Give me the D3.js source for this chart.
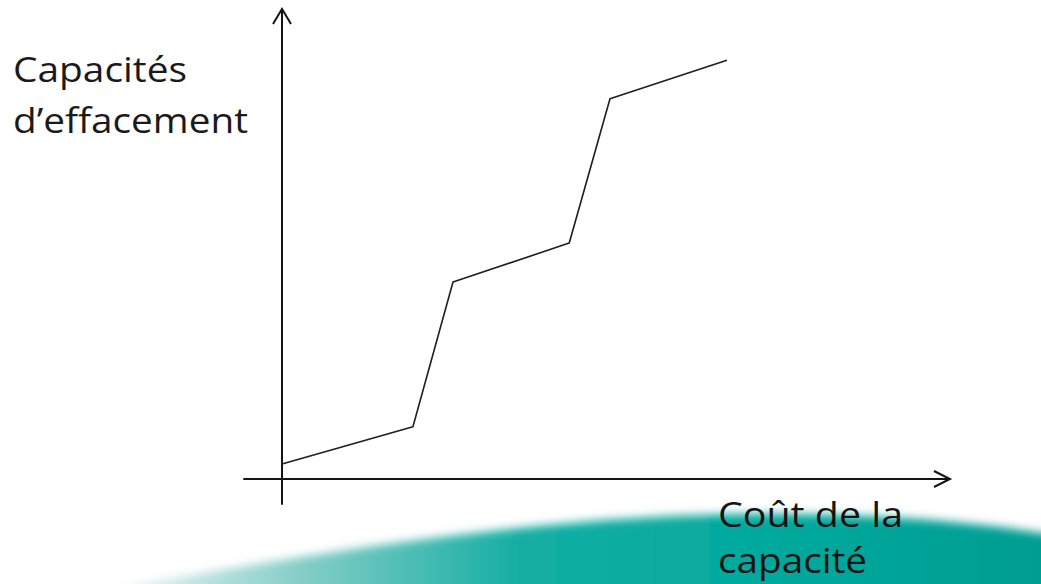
<!DOCTYPE html>
<html>
<head>
<meta charset="utf-8">
<script src="https://cdn.jsdelivr.net/npm/d3@7"></script>
<style>
html,body{margin:0;padding:0;background:#fff;}
svg{display:block;}
</style>
</head>
<body>
<svg id="chart" width="1041" height="584"></svg>
<script>
// Data (abstract units)
const costValues = [0, 19.6, 25.6, 43.0, 49.1, 66.6];
const capacityValues = [3.2, 11.1, 41.9, 50.2, 80.9, 89.1];
const yAxisLabel = ["Capacités", "d’effacement"];
const xAxisLabel = ["Coût de la", "capacité"];

const svg = d3.select("#chart");
const W = 1041, H = 584;

const x = d3.scaleLinear().domain([0, 100]).range([282, 950]);
const y = d3.scaleLinear().domain([0, 100]).range([479, 9]);

// Decorative teal swoosh at the bottom
const defs = svg.append("defs");
const grad = defs.append("linearGradient").attr("id", "teal").attr("x1", 0).attr("x2", W).attr("y1", 0).attr("y2", 0).attr("gradientUnits", "userSpaceOnUse");
[[0, "#ffffff", 0], [110, "#eef8f7", 1], [300, "#86cdc7", 1], [520, "#14aea3", 1], [800, "#00a89c", 1], [1041, "#009d92", 1]]
  .forEach(([o, c, op]) => grad.append("stop").attr("offset", o / W).attr("stop-color", c).attr("stop-opacity", op));
const blur = defs.append("filter").attr("id", "soft").attr("x", "-10%").attr("y", "-50%").attr("width", "120%").attr("height", "200%");
blur.append("feGaussianBlur").attr("stdDeviation", 5);
svg.append("path")
  .attr("d", "M 60,600 C 300,552 560,514 760,514 C 900,514 990,524 1060,536 L 1060,600 Z")
  .attr("fill", "url(#teal)")
  .attr("filter", "url(#soft)");

// Axes
const axisColor = "#141414";
const g = svg.append("g");
// y axis
g.append("line").attr("x1", x(0)).attr("x2", x(0)).attr("y1", y(-5.5)).attr("y2", y(100))
  .attr("stroke", axisColor).attr("stroke-width", 2);
g.append("path")
  .attr("d", `M ${x(0) - 9},${y(100) + 15} L ${x(0)},${y(100)} L ${x(0) + 9},${y(100) + 15}`)
  .attr("fill", "none").attr("stroke", axisColor).attr("stroke-width", 2);
// x axis
g.append("line").attr("x1", x(-5.8)).attr("x2", x(100)).attr("y1", y(0)).attr("y2", y(0))
  .attr("stroke", axisColor).attr("stroke-width", 2);
g.append("path")
  .attr("d", `M ${x(100) - 16},${y(0) - 8} L ${x(100)},${y(0)} L ${x(100) - 16},${y(0) + 8}`)
  .attr("fill", "none").attr("stroke", axisColor).attr("stroke-width", 2);

// Data line
const pts = costValues.map((c, i) => [c, capacityValues[i]]);
svg.append("path")
  .datum(pts)
  .attr("d", d3.line().x(d => x(d[0])).y(d => y(d[1])))
  .attr("fill", "none").attr("stroke", "#1e1e1e").attr("stroke-width", 1.6)
  .attr("stroke-linejoin", "round");

// Labels
const font = "'Open Sans', 'Noto Sans', sans-serif";
const t1 = svg.append("text").attr("font-family", font).attr("font-size", 34).attr("fill", "#1a1a1a");
t1.append("tspan").attr("x", 13).attr("y", 82).attr("textLength", 174).attr("lengthAdjust", "spacingAndGlyphs").text(yAxisLabel[0]);
t1.append("tspan").attr("x", 13).attr("y", 133).attr("textLength", 235).attr("lengthAdjust", "spacingAndGlyphs").text(yAxisLabel[1]);
const t2 = svg.append("text").attr("font-family", font).attr("font-size", 34).attr("fill", "#141414");
t2.append("tspan").attr("x", 718).attr("y", 527).attr("textLength", 185).attr("lengthAdjust", "spacingAndGlyphs").text(xAxisLabel[0]);
t2.append("tspan").attr("x", 718).attr("y", 573).attr("textLength", 149).attr("lengthAdjust", "spacingAndGlyphs").text(xAxisLabel[1]);
</script>
</body>
</html>
